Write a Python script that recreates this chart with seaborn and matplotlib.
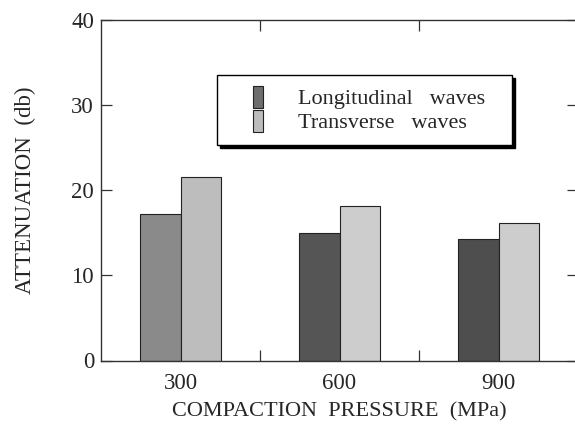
import matplotlib
matplotlib.use("Agg")
import matplotlib.pyplot as plt
import seaborn as sns
import pandas as pd
from matplotlib.patches import Rectangle
from matplotlib.legend_handler import HandlerPatch
from matplotlib.ticker import FixedLocator

# data
pressures = ["300", "600", "900"]
longitudinal = [17.2, 15.0, 14.3]
transverse = [21.5, 18.2, 16.1]
series = ["Longitudinal   waves", "Transverse   waves"]

df = pd.DataFrame({
    "pressure": pressures * 2,
    "attenuation": longitudinal + transverse,
    "wave": [series[0]] * 3 + [series[1]] * 3,
})

sns.set_style("ticks")
plt.rcParams["font.family"] = ["Liberation Serif", "DejaVu Serif"]

fig = plt.figure(figsize=(5.75, 4.28), dpi=100)
# right part of the frame is cut off in the original
ax = fig.add_axes([101 / 575, 1 - 360.5 / 428, 477 / 575, 340.5 / 428])

sns.barplot(data=df, x="pressure", y="attenuation", hue="wave",
            palette=["#555555", "#c8c8c8"], width=0.51, gap=0,
            edgecolor="#222222", linewidth=0.8, saturation=1, ax=ax)

# the 300 MPa longitudinal bar is printed in a lighter grey
long_cols = ["#8a8a8a", "#555555", "#4e4e4e"]
trans_cols = ["#bdbdbd", "#cdcdcd", "#cdcdcd"]
for i, p in enumerate(ax.patches[:3]):
    p.set_facecolor(long_cols[i])
for i, p in enumerate(ax.patches[3:6]):
    p.set_facecolor(trans_cols[i])

ax.set_xlim(-0.5, 2.5)
ax.set_ylim(0, 40)
ax.set_yticks([0, 10, 20, 30, 40])
ax.xaxis.set_minor_locator(FixedLocator([0.5, 1.5]))

ax.tick_params(axis="both", which="both", direction="in", length=8,
               width=0.9, color="#333333", labelsize=16.5, top=True, right=True)
ax.tick_params(axis="x", which="major", length=0, pad=9)
ax.tick_params(axis="y", which="major", pad=5)
for s in ax.spines.values():
    s.set_linewidth(1.0)
    s.set_color("#333333")

ax.set_xlabel("COMPACTION  PRESSURE  (MPa)", fontsize=16, labelpad=6)
ax.set_ylabel("ATTENUATION  (db)", fontsize=16.5, labelpad=25)


def inset_patch(legend, orig_handle, xdescent, ydescent, width, height, fontsize):
    w = 0.45 * fontsize
    return Rectangle((-xdescent + width - w, -ydescent - 0.1 * height), w, height * 1.15)


# legend box spans about x 217-512 px, y 75-145 px of the figure
x0 = (217 - 101) / 477
x1 = (512 - 101) / 477
y1 = (360.5 - 75) / 340.5
y0 = (360.5 - 145) / 340.5
leg = ax.legend(loc="upper left", bbox_to_anchor=(x0, y0, x1 - x0, y1 - y0), mode="expand",
                frameon=True, fancybox=False, shadow={"color": "black", "alpha": 1},
                fontsize=16, handlelength=1.5, handleheight=0.9, handletextpad=1.6,
                borderpad=0.55, labelspacing=0.1, borderaxespad=0,
                handler_map={Rectangle: HandlerPatch(patch_func=inset_patch)})
frame = leg.get_frame()
frame.set_edgecolor("black")
frame.set_linewidth(1.0)
frame.set_facecolor("white")
frame.set_alpha(1)
for h, c in zip(leg.legend_handles, ["#6e6e6e", "#bcbcbc"]):
    h.set_facecolor(c)
    h.set_edgecolor("#222222")

fig.savefig("out.png", dpi=100)
